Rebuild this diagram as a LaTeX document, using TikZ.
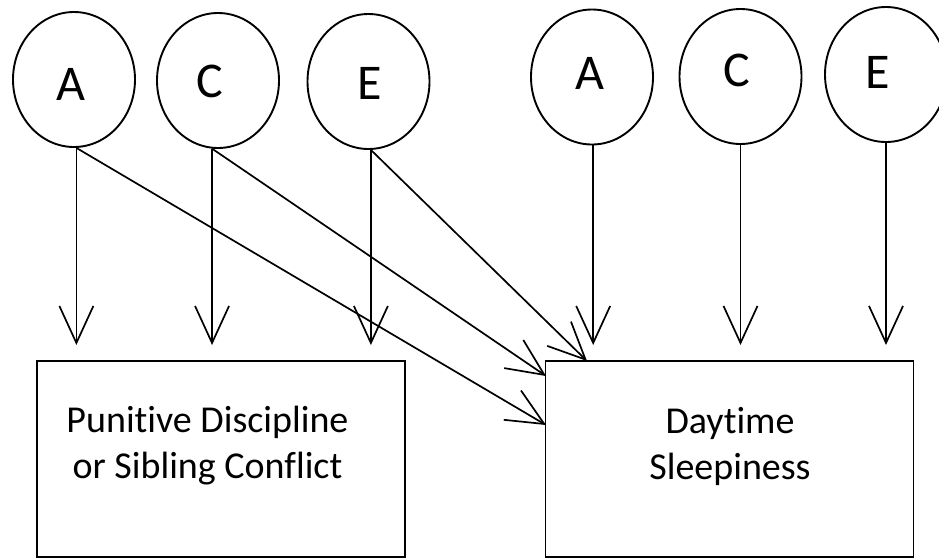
\documentclass[tikz,border=0pt]{standalone}
\usepackage{fontspec}
\setmainfont{Carlito}[Ligatures=NoCommon]
\usetikzlibrary{shapes.geometric,arrows.meta}
\begin{document}
\begin{tikzpicture}[x=1pt,y=-1pt,
  factor/.style={ellipse,draw,line width=1.9pt,minimum width=122pt,minimum height=135pt,inner sep=0pt},
  letter/.style={inner sep=0pt,font=\fontsize{50}{60}\selectfont},
  measure/.style={rectangle,draw,line width=1.8pt,minimum width=368pt,minimum height=196pt,inner sep=0pt},
  boxtext/.style={align=center,font=\fontsize{38}{46}\selectfont},
  path/.style={line width=1.7pt,-{Straight Barb[length=37pt,width=34pt,line width=1.7pt]}}]
\useasboundingbox (0,0) rectangle (939,558);

% latent factors for the first measure
\node[factor] (A1) at (74,79.5) {};
\node[factor] (C1) at (218,80.5) {};
\node[factor] (E1) at (368.5,81.5) {};
\node[letter] (A1t) at (71,84) {A};
\node[letter] (C1t) at (210,81) {C};
\node[letter] (E1t) at (370,83) {E};
% latent factors for the second measure
\node[factor] (A2) at (592,77) {};
\node[factor] (C2) at (740.5,76.5) {};
\node[factor] (E2) at (886,74.5) {};
\node[letter] (A2t) at (590,73) {A};
\node[letter] (C2t) at (737,70) {C};
\node[letter] (E2t) at (878,72) {E};

% observed measures
\node[measure] (PD) at (221,459) {};
\node[measure] (DS) at (729.5,459) {};
\node[boxtext] (PDt) at (207.5,446) {Punitive Discipline\\or Sibling Conflict};
\node[boxtext] (DSt) at (730,446) {Daytime\\Sleepiness};

% arrow tips stop short of the boxes
\coordinate (tipline) at (0,345);
\coordinate (inA) at (546,425);
\coordinate (inC) at (546,376);
\coordinate (inE) at (587,361);

% vertical paths
\draw[path] (A1.272) -- (A1.272 |- tipline);
\draw[path] (C1.265) -- (C1.265 |- tipline);
\draw[path] (E1.272) -- (E1.272 |- tipline);
\draw[path] (A2.271) -- (A2.271 |- tipline);
\draw[path] (C2.270) -- (C2.270 |- tipline);
\draw[path] (E2.270) -- (E2.270 |- tipline);

% cross paths into the second measure
\draw[path] (A1.272) -- (inA);
\draw[path] (C1.265) -- (inC);
\draw[path] (E1.272) -- (inE);
\end{tikzpicture}
\end{document}
